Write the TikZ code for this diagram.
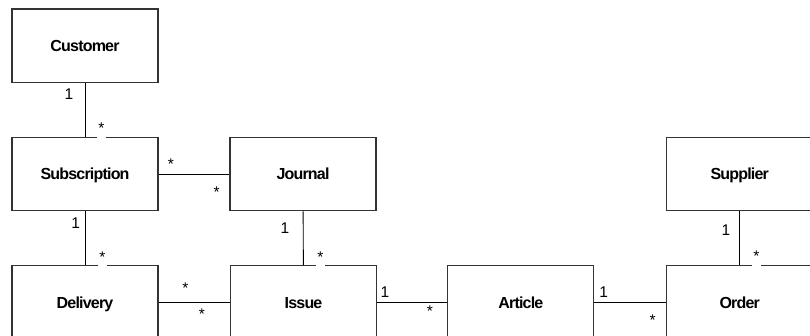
\documentclass[tikz,border=0pt]{standalone}
\usepackage{fontspec}
\setmainfont{Liberation Sans}
\newfontfamily\clsfont[LetterSpace=-5]{Liberation Sans}
\begin{document}
\begin{tikzpicture}[x=1pt,y=-1pt,
  cls/.style={draw=black!80,line width=1.3pt,minimum width=146pt,minimum height=73.5pt,
    inner sep=0pt,font=\clsfont\fontsize{16}{18}\bfseries\selectfont,text height=11.2pt,text depth=0pt},
  conn/.style={draw=black,line width=0.9pt},
  mult/.style={anchor=base,inner sep=0pt,font=\fontsize{15.5}{18}\selectfont},
  gapmult/.style={anchor=base,fill=white,inner xsep=1.6pt,inner ysep=1pt,text depth=3.6pt,font=\fontsize{15.5}{18}\selectfont}]
\useasboundingbox (0,0) rectangle (810,335);
% classes
\node[cls] (customer) at (85,45.7) {Customer};
\node[cls] (subscription) at (85,174) {Subscription};
\node[cls] (journal) at (303,174) {Journal};
\node[cls] (supplier) at (739.7,174) {Supplier};
\node[cls] (delivery) at (85,302.4) {Delivery};
\node[cls] (issue) at (303.5,302.4) {Issue};
\node[cls] (article) at (520.8,302.4) {Article};
\node[cls] (order) at (739.7,302.4) {Order};
% associations
\draw[conn] (customer) -- (subscription);
\draw[conn] (subscription) -- (journal);
\draw[conn] (subscription) -- (delivery);
\draw[conn] (journal) -- (issue);
\draw[conn] (delivery) -- (issue);
\draw[conn] (issue) -- (article);
\draw[conn] (article) -- (order);
\draw[conn] (supplier) -- (order);
% multiplicities
\node[mult] (m1) at (69,99) {1};
\node[gapmult] (m2) at (101.5,133) {*};
\node[mult] (m3) at (171,169.5) {*};
\node[mult] (m4) at (216.7,197.8) {*};
\node[mult] (m5) at (75.7,228.3) {1};
\node[gapmult] (m6) at (102.5,262) {*};
\node[mult] (m7) at (285,233.3) {1};
\node[gapmult] (m8) at (320.5,262) {*};
\node[mult] (m9) at (185.3,293.8) {*};
\node[mult] (m10) at (202,319.5) {*};
\node[mult] (m11) at (385,297.7) {1};
\node[mult] (m12) at (430,316.2) {*};
\node[mult] (m13) at (603.7,297.7) {1};
\node[mult] (m14) at (652.7,325.2) {*};
\node[mult] (m15) at (726,235) {1};
\node[gapmult] (m16) at (756.5,261.3) {*};
\end{tikzpicture}
\end{document}
